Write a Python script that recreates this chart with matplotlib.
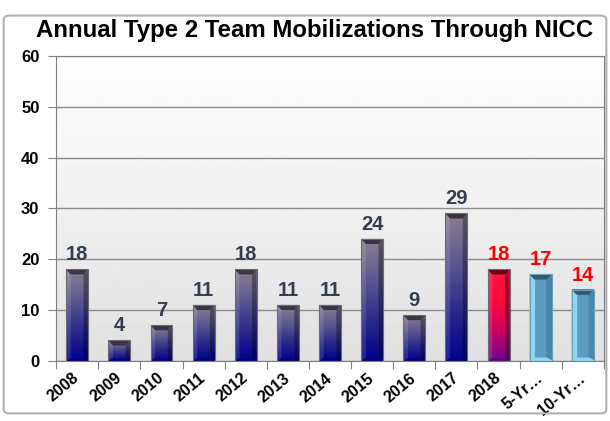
import numpy as np
import matplotlib.pyplot as plt
from matplotlib.colors import LinearSegmentedColormap
from matplotlib.patches import FancyBboxPatch, Polygon

plt.rcParams['font.family'] = ['Liberation Sans', 'DejaVu Sans']

categories = ['2008', '2009', '2010', '2011', '2012', '2013', '2014',
              '2015', '2016', '2017', '2018', '5-Yr…', '10-Yr…']
values = [18, 4, 7, 11, 18, 11, 11, 24, 9, 29, 18, 17, 14]
kinds = ['past'] * 10 + ['current', 'avg', 'avg']

cmaps = {
    'past': LinearSegmentedColormap.from_list('past', ['#000090', '#2a2a8a', '#5c5890', '#8a8090']),
    'current': LinearSegmentedColormap.from_list('cur', ['#6a0a90', '#d00060', '#ff0a3c', '#ff1840']),
    'avg': LinearSegmentedColormap.from_list('avg', ['#5b9cc0', '#5b9cc0']),
}
top_colors = {'past': '#3a3540', 'current': '#6a0010', 'avg': '#2f5a70'}
label_colors = {'past': '#333f50', 'current': '#ff0000', 'avg': '#ff0000'}

fig = plt.figure(figsize=(6.1, 4.21), dpi=100)
fig.patches.append(FancyBboxPatch((0.006, 0.018), 0.988, 0.945, boxstyle='round,pad=0,rounding_size=0.01',
                                  transform=fig.transFigure, fill=False, edgecolor='#b0b0b0', lw=1.5))
ax = fig.add_axes([0.092, 0.143, 0.898, 0.724])

# background gradient
bg = np.linspace(0.88, 1.0, 256).reshape(-1, 1)
ax.imshow(bg, extent=[-0.5, len(values) - 0.5, 0, 60], origin='lower', cmap='gray',
          vmin=0, vmax=1, aspect='auto', zorder=0)

w = 0.52
bx = 0.11  # bevel width (category units)
by = 1.0   # bevel height (data units)
x = np.arange(len(values))
for i, (v, k) in enumerate(zip(values, kinds)):
    l, r = i - w / 2, i + w / 2
    grad = np.linspace(0, 1, 256).reshape(-1, 1)
    ax.imshow(grad, extent=[l, r, 0, v], origin='lower', cmap=cmaps[k],
              aspect='auto', zorder=2)
    bvy = min(by, v / 4)
    left = [(l, 0), (l + bx, bvy * 0.5), (l + bx, v - bvy), (l, v)]
    right = [(r, 0), (r - bx, bvy * 0.5), (r - bx, v - bvy), (r, v)]
    top = [(l, v), (r, v), (r - bx, v - bvy), (l + bx, v - bvy)]
    bottom = [(l, 0), (r, 0), (r - bx, bvy * 0.5), (l + bx, bvy * 0.5)]
    if k == 'avg':
        ax.add_patch(Polygon(left, color='#8ed6f6', zorder=3))
        ax.add_patch(Polygon(right, color='#4a86a8', zorder=3))
        ax.add_patch(Polygon(bottom, color='#8ed6f6', zorder=3))
    else:
        ax.add_patch(Polygon(left, color='white', alpha=0.12, lw=0, zorder=3))
        ax.add_patch(Polygon(right, color='black', alpha=0.35, lw=0, zorder=3))
        ax.add_patch(Polygon(bottom, color='black', alpha=0.2, lw=0, zorder=3))
    ax.add_patch(Polygon(top, color=top_colors[k], lw=0, zorder=3))
    ax.bar(i, v, width=w, fill=False, edgecolor='#6a6a78' if k != 'avg' else '#6aa0bc',
           lw=0.8, zorder=4)
    ax.text(i, v + 1.0, str(v), ha='center', va='bottom', fontsize=14.5, fontweight='bold',
            color=label_colors[k], zorder=4)

ax.set_xlim(-0.5, len(values) - 0.5)
ax.set_ylim(0, 60)
ax.set_yticks(range(0, 61, 10))
ax.set_axisbelow(True)
ax.yaxis.grid(True, color='#8c8c8c', lw=1)
ax.set_xticks(np.arange(-0.5, len(values), 1), minor=False)
ax.set_xticklabels([])
ax.set_xticks(x, minor=True)
ax.set_xticklabels(categories, minor=True, rotation=40, ha='right', va='center',
                   rotation_mode='anchor', fontsize=11.5, fontweight='bold')
ax.tick_params(axis='x', which='minor', length=0, pad=11)
ax.tick_params(axis='x', which='major', length=6, color='#808080')
ax.tick_params(axis='y', length=6, color='#808080', labelsize=12, pad=6)
for lab in ax.get_yticklabels():
    lab.set_fontweight('bold')
for s in ax.spines.values():
    s.set_color('#808080')

fig.text(0.515, 0.928, 'Annual Type 2 Team Mobilizations Through NICC', ha='center', va='center',
         fontsize=17.3, fontweight='bold')

fig.savefig('out.png', dpi=100)
